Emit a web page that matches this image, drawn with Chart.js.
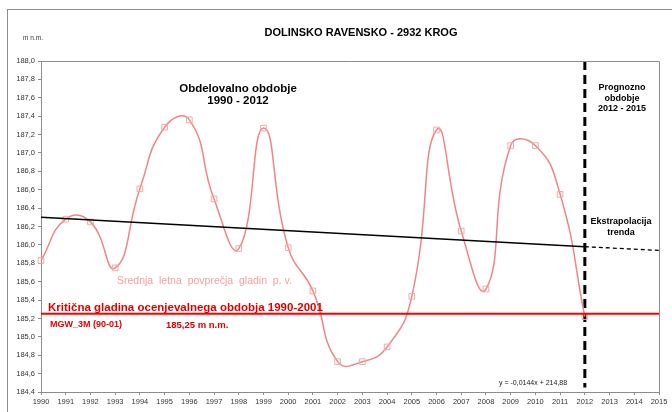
<!DOCTYPE html>
<html>
<head>
<meta charset="utf-8">
<script src="https://cdn.jsdelivr.net/npm/chart.js@4/dist/chart.umd.min.js"></script>
<style>
html,body{margin:0;padding:0;background:#fff;}
#wrap{position:relative;width:672px;height:412px;}
</style>
</head>
<body>
<div id="wrap"><canvas id="c" width="672" height="412"></canvas></div>
<script>
const years = [1990,1991,1992,1993,1994,1995,1996,1997,1998,1999,2000,2001,2002,2003,2004,2005,2006,2007,2008,2009,2010,2011,2012];
const levels = [185.83,186.28,186.25,185.75,186.61,187.28,187.36,186.50,185.96,187.27,185.97,185.50,184.73,184.73,184.89,185.44,187.25,186.15,185.52,187.08,187.08,186.55,185.22];
const trendYears = [1990,2012];
const trendValues = [186.30,185.98];
const extrapYears = [2012,2015];
const extrapValues = [185.98,185.94];
const criticalYears = [1990,2015];
const criticalLevel = 185.25;
const dividerYear = 2012;
const dividerRange = [188.0,184.45];
const xTicks = [1990,2015];
const yRange = [184.4,188.0];

const pts = (xs, ys) => xs.map((x,i)=>({x:x,y:Array.isArray(ys)?ys[i]:ys}));

const FONT = "'Liberation Sans', Arial, sans-serif";

const decor = {
  id:'decor',
  beforeDraw(chart){
    const ctx = chart.ctx;
    ctx.save();
    ctx.fillStyle='#fff';
    ctx.fillRect(0,0,chart.width,chart.height);
    ctx.strokeStyle='#8c8c8c';
    ctx.lineWidth=1;
    ctx.strokeRect(7.5,9.5,700,420);
    ctx.restore();
  },
  afterDatasetsDraw(chart){
    const ctx = chart.ctx;
    const a = chart.chartArea;
    ctx.save();
    ctx.strokeStyle='#8c8c8c';
    ctx.lineWidth=1;
    ctx.beginPath();
    ctx.moveTo(Math.round(a.left)+0.5, Math.round(a.top)+0.5);
    ctx.lineTo(Math.round(a.right)+0.5, Math.round(a.top)+0.5);
    ctx.lineTo(Math.round(a.right)+0.5, Math.round(a.bottom)+0.5);
    ctx.stroke();
    ctx.textBaseline='middle';
    ctx.textAlign='center';
    const t = (s,x,y,font,color,align)=>{ctx.font=font;ctx.fillStyle=color||'#000';ctx.textAlign=align||'center';ctx.fillText(s,x,y);};
    t('DOLINSKO RAVENSKO - 2932 KROG',361,33,'bold 11px '+FONT,'#000');
    t('m n.m.',33,38,'6.5px '+FONT,'#333');
    t('Obdelovalno obdobje',238,89,'bold 11.5px '+FONT,'#000');
    t('1990 - 2012',238,101,'bold 11.5px '+FONT,'#000');
    t('Prognozno',622,88,'bold 9px '+FONT,'#000');
    t('obdobje',622,99,'bold 9px '+FONT,'#000');
    t('2012 - 2015',622,109,'bold 9px '+FONT,'#000');
    t('Ekstrapolacija',621,222,'bold 9px '+FONT,'#000');
    t('trenda',621,233,'bold 9px '+FONT,'#000');
    t('Srednja  letna  povprečja  gladin  p. v.',117,281,'10.5px '+FONT,'#f4a0a0','left');
    t('Kritična gladina ocenjevalnega obdobja 1990-2001',48,308,'bold 11.5px '+FONT,'#e00000','left');
    t('MGW_3M (90-01)',50,325,'bold 9px '+FONT,'#e00000','left');
    t('185,25 m n.m.',166,325,'bold 9.5px '+FONT,'#e00000','left');
    t('y = -0,0144x + 214,88',499,383,'7px '+FONT,'#222','left');
    ctx.restore();
  }
};

new Chart(document.getElementById('c'),{
  type:'line',
  data:{
    datasets:[
      {data:pts(criticalYears,criticalLevel),borderColor:'#ff0000',borderWidth:2,pointRadius:0,tension:0},
      {data:pts(trendYears,trendValues),borderColor:'#000',borderWidth:1.5,pointRadius:0,tension:0},
      {data:pts(extrapYears,extrapValues),borderColor:'#000',borderWidth:1.3,borderDash:[4,3],pointRadius:0,tension:0},
      {data:pts(years,levels),borderColor:'#f08585',borderWidth:1.5,tension:0.5,clip:false,
        pointStyle:'rect',pointRadius:4,pointBorderColor:'#f4a8a8',pointBackgroundColor:'rgba(0,0,0,0)',pointBorderWidth:1},
      {data:pts([dividerYear,dividerYear],dividerRange),borderColor:'#000',borderWidth:3,borderDash:[9,5],pointRadius:0,tension:0}
    ]
  },
  options:{
    responsive:false,
    animation:false,
    layout:{padding:{left:0,right:13,top:61,bottom:0}},
    plugins:{legend:{display:false},tooltip:{enabled:false},title:{display:false}},
    scales:{
      x:{type:'linear',min:xTicks[0],max:xTicks[1],
        afterFit(s){s.height=20;},
        ticks:{stepSize:1,autoSkip:false,maxRotation:0,padding:2,color:'#333',font:{family:FONT,size:7.5},callback:v=>String(v)},
        grid:{drawOnChartArea:false,drawTicks:true,tickLength:3,color:'#8c8c8c'},
        border:{color:'#8c8c8c',width:1}
      },
      y:{type:'linear',min:yRange[0],max:yRange[1],
        afterFit(s){s.width=41;},
        afterBuildTicks(s){const t=[];for(let i=0;i<=18;i++){t.push({value:+(yRange[0]+i*0.2).toFixed(1)});}s.ticks=t;},
        ticks:{padding:3,color:'#333',font:{family:FONT,size:7.5},callback:v=>Number(v).toFixed(1).replace('.',',')},
        grid:{drawOnChartArea:false,drawTicks:true,tickLength:3,color:'#8c8c8c'},
        border:{color:'#8c8c8c',width:1}
      }
    }
  },
  plugins:[decor]
});
</script>
</body>
</html>
